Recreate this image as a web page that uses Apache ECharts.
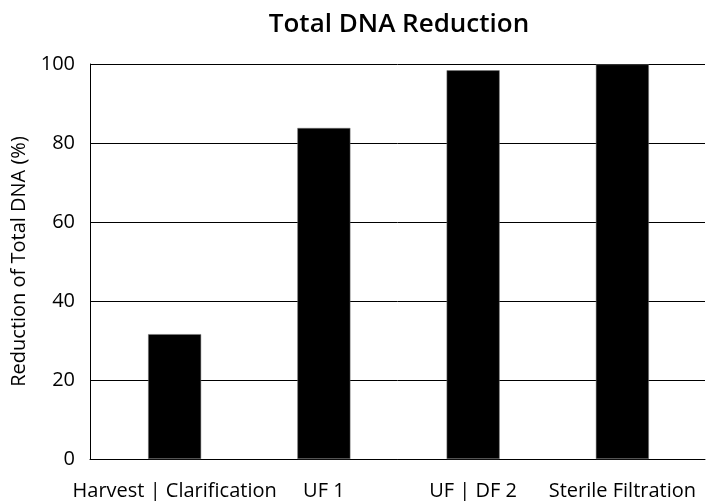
<!DOCTYPE html>
<html>
<head>
<meta charset="utf-8">
<script src="https://cdn.jsdelivr.net/npm/echarts@6/dist/echarts.min.js"></script>
<style>
  html, body { margin: 0; padding: 0; background: #fff; }
  #main { width: 707px; height: 501px; }
</style>
</head>
<body>
<div id="main"></div>
<script>
var steps = ['Harvest | Clarification', 'UF 1', 'UF | DF 2', 'Sterile Filtration'];
var reduction = [31.6, 83.8, 98.4, 99.9];
var yTicks = [0, 20, 40, 60, 80, 100];

var myChart = echarts.init(document.getElementById('main'));
var font = '"Open Sans", "Noto Sans", sans-serif';

myChart.setOption({
    animation: false,
    title: {
        text: 'Total DNA Reduction',
        left: 394,
        top: 7,
        textAlign: 'center',
        textStyle: { fontFamily: font, fontSize: 26, fontWeight: 600, color: '#000' }
    },
    grid: [
        { left: 90, right: 2, top: 64, bottom: 42, outerBoundsMode: 'none' },
        { left: 100, right: 10, top: 64, bottom: 42, outerBoundsMode: 'none' }
    ],
    xAxis: [{
        gridIndex: 0,
        type: 'category',
        data: steps,
        axisLine: { lineStyle: { color: '#000', width: 1 } },
        axisTick: { show: false },
        axisLabel: { show: false }
    }, {
        gridIndex: 1,
        type: 'category',
        data: steps,
        axisLine: { show: false },
        axisTick: { show: false },
        axisLabel: { fontFamily: font, fontSize: 20, color: '#000', margin: 22, interval: 0 }
    }],
    yAxis: [{
        gridIndex: 0,
        type: 'value',
        min: 0,
        max: 100,
        interval: 20,
        name: 'Reduction of Total DNA (%)',
        nameLocation: 'middle',
        nameGap: 57,
        nameTextStyle: { fontFamily: font, fontSize: 20, color: '#000' },
        axisLine: { show: true, lineStyle: { color: '#000', width: 1 } },
        axisTick: { show: false },
        axisLabel: {
            fontFamily: font, fontSize: 20, color: '#000', margin: 15,
            formatter: function (v) { return yTicks.indexOf(v) >= 0 ? v : ''; }
        },
        splitLine: { lineStyle: { color: '#000', width: 1 } }
    }, {
        gridIndex: 1,
        type: 'value',
        min: 0,
        max: 100,
        show: false
    }],
    series: [{
        name: 'Total DNA Reduction',
        type: 'bar',
        xAxisIndex: 1,
        yAxisIndex: 1,
        barWidth: 53,
        itemStyle: { color: '#000', borderColor: '#777', borderWidth: 0.5 },
        data: reduction
    }]
});
</script>
</body>
</html>
